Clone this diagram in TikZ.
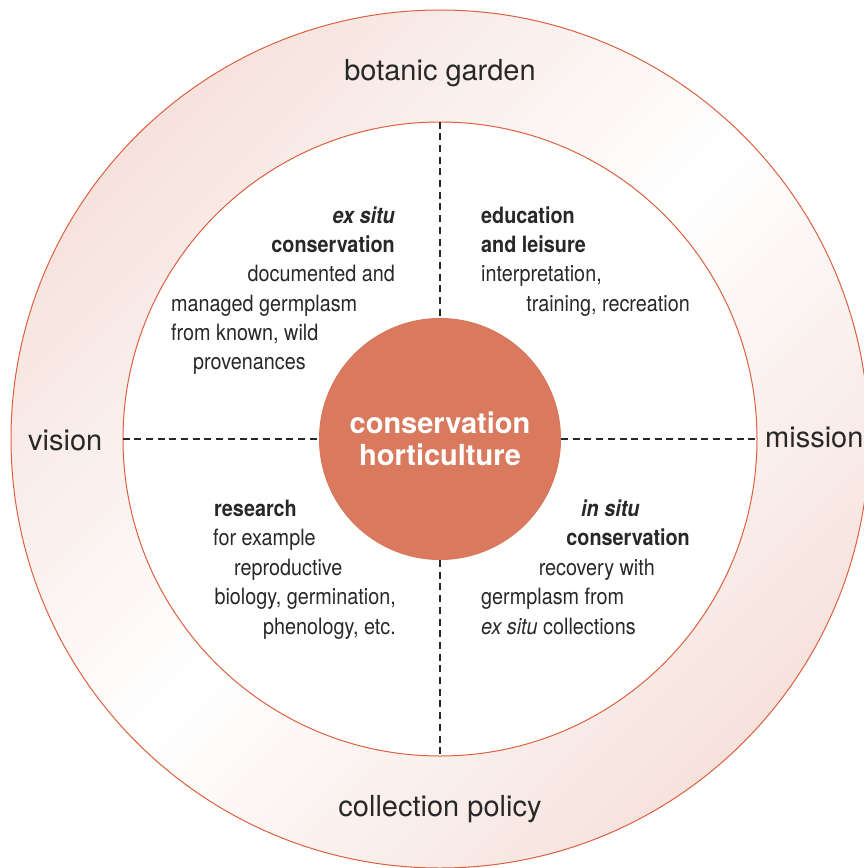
\documentclass[tikz,border=0pt]{standalone}
\usepackage{fontspec}
\setmainfont{TeX Gyre Heros}
\newfontfamily\condfont[FakeStretch=0.88]{TeX Gyre Heros}
\usetikzlibrary{positioning}
\definecolor{ringpink}{RGB}{246,226,221}
\definecolor{ringline}{RGB}{221,96,62}
\definecolor{corefill}{RGB}{217,122,95}
\definecolor{inkgray}{RGB}{40,40,40}

\begin{document}
\begin{tikzpicture}[x=1pt,y=-1pt,
  ring/.style={circle,draw=ringline,line width=1pt,inner sep=0pt},
  divider/.style={draw=inkgray,line width=2.6pt,dash pattern=on 7pt off 4.7pt},
  outer/.style={font=\fontsize{29}{34}\selectfont,text=inkgray,inner sep=0pt,anchor=base},
  note/.style={font=\condfont\fontsize{22.5}{29}\selectfont,text=inkgray,inner sep=0pt},
  head/.style={note,font=\condfont\bfseries\fontsize{22.5}{29}\selectfont}]
  \useasboundingbox (0,0) rectangle (863,868);
  \node[ring,minimum size=858pt,left color=ringpink,right color=ringpink,
    middle color=white,shading angle=45] (garden) at (440,439) {};
  \node[ring,minimum size=634pt,fill=white] (field) at (440,439) {};
  \node[ring,minimum size=241pt,fill=corefill,draw=corefill!90!ringline,
    text=white,align=center,font=\bfseries\fontsize{29}{34}\selectfont]
    (core) at (440,439) {\raisebox{-2pt}{conservation}\\horticulture};
  \draw[divider] (field.north) -- (core.north);
  \draw[divider] (core.south) -- (field.south);
  \draw[divider] (field.west) -- (core.west);
  \draw[divider] (core.east) -- (field.east);
  \node[outer] (botanic) at (440,80) {botanic garden};
  \node[outer] (policy) at (440,816) {collection policy};
  \node[outer,anchor=base west] (vision) at (28,450) {vision};
  \node[outer,anchor=base west] (mission) at (765,447) {mission};
  \node[head,anchor=base east] (exhead) at (395,223) {\itshape ex situ};
  \node[head,anchor=base east] (exname) at (395,252) {conservation};
  \node[note,anchor=base east] (exline1) at (395,281) {documented and};
  \node[note,anchor=base west] (exline2) at (171,311) {managed germplasm};
  \node[note,anchor=base west] (exline3) at (171,340) {from known, wild};
  \node[note,anchor=base west] (exline4) at (193,369) {provenances};
  \node[head,anchor=base west] (eduhead) at (481,223) {education};
  \node[head,anchor=base west] (eduname) at (481,252) {and leisure};
  \node[note,anchor=base west] (eduline1) at (481,281) {interpretation,};
  \node[note,anchor=base east] (eduline2) at (690,311) {training, recreation};
  \node[head,anchor=base west] (reshead) at (214,516) {research};
  \node[note,anchor=base west] (resline1) at (213,545) {for example};
  \node[note,anchor=base west] (resline2) at (234,575) {reproductive};
  \node[note,anchor=base east] (resline3) at (396,604) {biology, germination,};
  \node[note,anchor=base east] (resline4) at (396,634) {phenology, etc.};
  \node[head,anchor=base west] (inhead) at (581,516) {\itshape in situ};
  \node[head,anchor=base east] (inname) at (690,545) {conservation};
  \node[note,anchor=base east] (inline1) at (655,575) {recovery with};
  \node[note,anchor=base west] (inline2) at (481,604) {germplasm from};
  \node[note,anchor=base west] (inline3) at (481,634) {\textit{ex situ} collections};
\end{tikzpicture}
\end{document}
